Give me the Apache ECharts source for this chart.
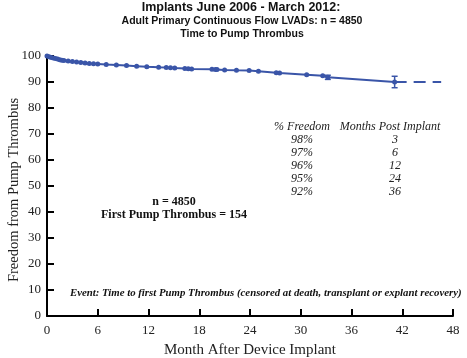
<!DOCTYPE html>
<html><head><meta charset="utf-8">
<script src="https://cdn.jsdelivr.net/npm/echarts@6/dist/echarts.min.js"></script>
<style>html,body{margin:0;padding:0;background:#fff}#c{width:467px;height:358px}</style>
</head><body><div id="c"></div>
<script>
// Kaplan-Meier style curve (month, % freedom)
const survMonths = [0,0.25,0.5,0.75,1,1.25,1.5,1.75,2,2.5,3,3.5,4,4.5,5,5.5,6,7,8.2,9.4,10.6,11.8,13.2,14.1,14.6,15.1,16.3,16.7,17.1,19.5,19.9,20.1,21,22.4,23.9,25,27.1,27.5,30.7,32.6,33.2,41.1];
const survValues = [100,99.7,99.4,99.2,99.0,98.8,98.6,98.4,98.3,98.1,97.9,97.7,97.5,97.3,97.1,97.0,96.9,96.7,96.5,96.3,96.1,95.9,95.7,95.6,95.5,95.4,95.2,95.1,95.0,94.9,94.8,94.8,94.6,94.5,94.4,94.1,93.6,93.5,92.8,92.4,91.8,90.0];
// error bars
const errMonths = [33.2, 41.1];
const errLow = [91.0, 87.8];
const errHigh = [92.6, 92.2];
// dashed extension
const extMonths = [41.1, 46.6];
const extValues = [90, 90];
// tick labels
const xTicks = [0,6,12,18,24,30,36,42,48];
const yTicks = [0,10,20,30,40,50,60,70,80,90,100];
// table
const tablePct = ['98%','97%','96%','95%','92%'];
const tableMonths = ['3','6','12','24','36'];

const blue = '#3a55a8';
const serif = '"Liberation Serif", "DejaVu Serif", serif';
const sans = '"Liberation Sans", Arial, sans-serif';

const chart = echarts.init(document.getElementById('c'), null, {renderer:'canvas'});

const graphics = [
  {type:'text', x:241, y:8, style:{text:'Implants June 2006 - March 2012:', font:'bold 12.5px '+sans, fill:'#111', align:'center', verticalAlign:'middle'}},
  {type:'text', x:242, y:21.5, style:{text:'Adult Primary Continuous Flow LVADs: n = 4850', font:'bold 10.5px '+sans, fill:'#111', align:'center', verticalAlign:'middle'}},
  {type:'text', x:242, y:34, style:{text:'Time to Pump Thrombus', font:'bold 10.5px '+sans, fill:'#111', align:'center', verticalAlign:'middle'}},
  {type:'text', x:14, y:190, rotation:Math.PI/2, style:{text:'Freedom from Pump Thrombus', font:'14.5px '+serif, fill:'#222', align:'center', verticalAlign:'middle'}},
  {type:'text', x:302, y:127, style:{text:'% Freedom', font:'italic 12px '+serif, fill:'#222', align:'center', verticalAlign:'middle'}},
  {type:'text', x:390, y:127, style:{text:'Months Post Implant', font:'italic 12px '+serif, fill:'#222', align:'center', verticalAlign:'middle'}},
  {type:'text', x:174, y:202, style:{text:'n = 4850', font:'bold 12px '+serif, fill:'#111', align:'center', verticalAlign:'middle'}},
  {type:'text', x:174, y:215, style:{text:'First Pump Thrombus = 154', font:'bold 12px '+serif, fill:'#111', align:'center', verticalAlign:'middle'}},
  {type:'text', x:70, y:293, style:{text:'Event: Time to first Pump Thrombus (censored at death, transplant or explant recovery)', font:'italic bold 10.8px '+serif, fill:'#111', align:'left', verticalAlign:'middle'}}
];
const rowY = [140, 153, 166, 179, 192];
tablePct.forEach((t,i)=>{
  graphics.push({type:'text', x:302, y:rowY[i], style:{text:t, font:'italic 12px '+serif, fill:'#222', align:'center', verticalAlign:'middle'}});
  graphics.push({type:'text', x:395, y:rowY[i], style:{text:tableMonths[i], font:'italic 12px '+serif, fill:'#222', align:'center', verticalAlign:'middle'}});
});

chart.setOption({
  animation:false,
  grid:{left:47, right:14, top:56, bottom:42, containLabel:false, outerBoundsMode:'none'},
  xAxis:{type:'value', min:0, max:48, interval:6,
    name:'Month After Device Implant', nameLocation:'middle', nameGap:27,
    nameTextStyle:{fontFamily:serif, fontSize:15, color:'#222'},
    axisLine:{lineStyle:{color:'#000', width:2}},
    axisTick:{inside:true, length:7, lineStyle:{color:'#000', width:2}},
    axisLabel:{fontFamily:serif, fontSize:13, color:'#222', margin:8,
      formatter:v=>xTicks.includes(v)?String(v):''},
    splitLine:{show:false}},
  yAxis:{type:'value', min:0, max:100, interval:10,
    axisLine:{show:true, lineStyle:{color:'#000', width:2}},
    axisTick:{show:true, inside:true, length:7, lineStyle:{color:'#000', width:2}},
    axisLabel:{fontFamily:serif, fontSize:13, color:'#222', margin:6,
      formatter:v=>yTicks.includes(v)?String(v):''},
    splitLine:{show:false}},
  graphic:graphics,
  series:[
    {type:'line', data:survMonths.map((m,i)=>[m,survValues[i]]),
      symbol:'circle', symbolSize:5, showAllSymbol:true,
      lineStyle:{color:blue, width:2}, itemStyle:{color:blue}, z:3},
    {type:'line', data:extMonths.map((m,i)=>[m,extValues[i]]),
      symbol:'none', lineStyle:{color:blue, width:2, type:[12,7]}, z:2},
    {type:'custom', data:errMonths.map((m,i)=>[m,errLow[i],errHigh[i]]),
      renderItem:(params, api)=>{
        const lo = api.coord([api.value(0), api.value(1)]);
        const hi = api.coord([api.value(0), api.value(2)]);
        const w = 3;
        return {type:'group', children:[
          {type:'line', shape:{x1:lo[0],y1:lo[1],x2:hi[0],y2:hi[1]}, style:{stroke:blue, lineWidth:1.5}},
          {type:'line', shape:{x1:lo[0]-w,y1:lo[1],x2:lo[0]+w,y2:lo[1]}, style:{stroke:blue, lineWidth:1.5}},
          {type:'line', shape:{x1:hi[0]-w,y1:hi[1],x2:hi[0]+w,y2:hi[1]}, style:{stroke:blue, lineWidth:1.5}}
        ]};
      }, z:4}
  ]
});
</script></body></html>
